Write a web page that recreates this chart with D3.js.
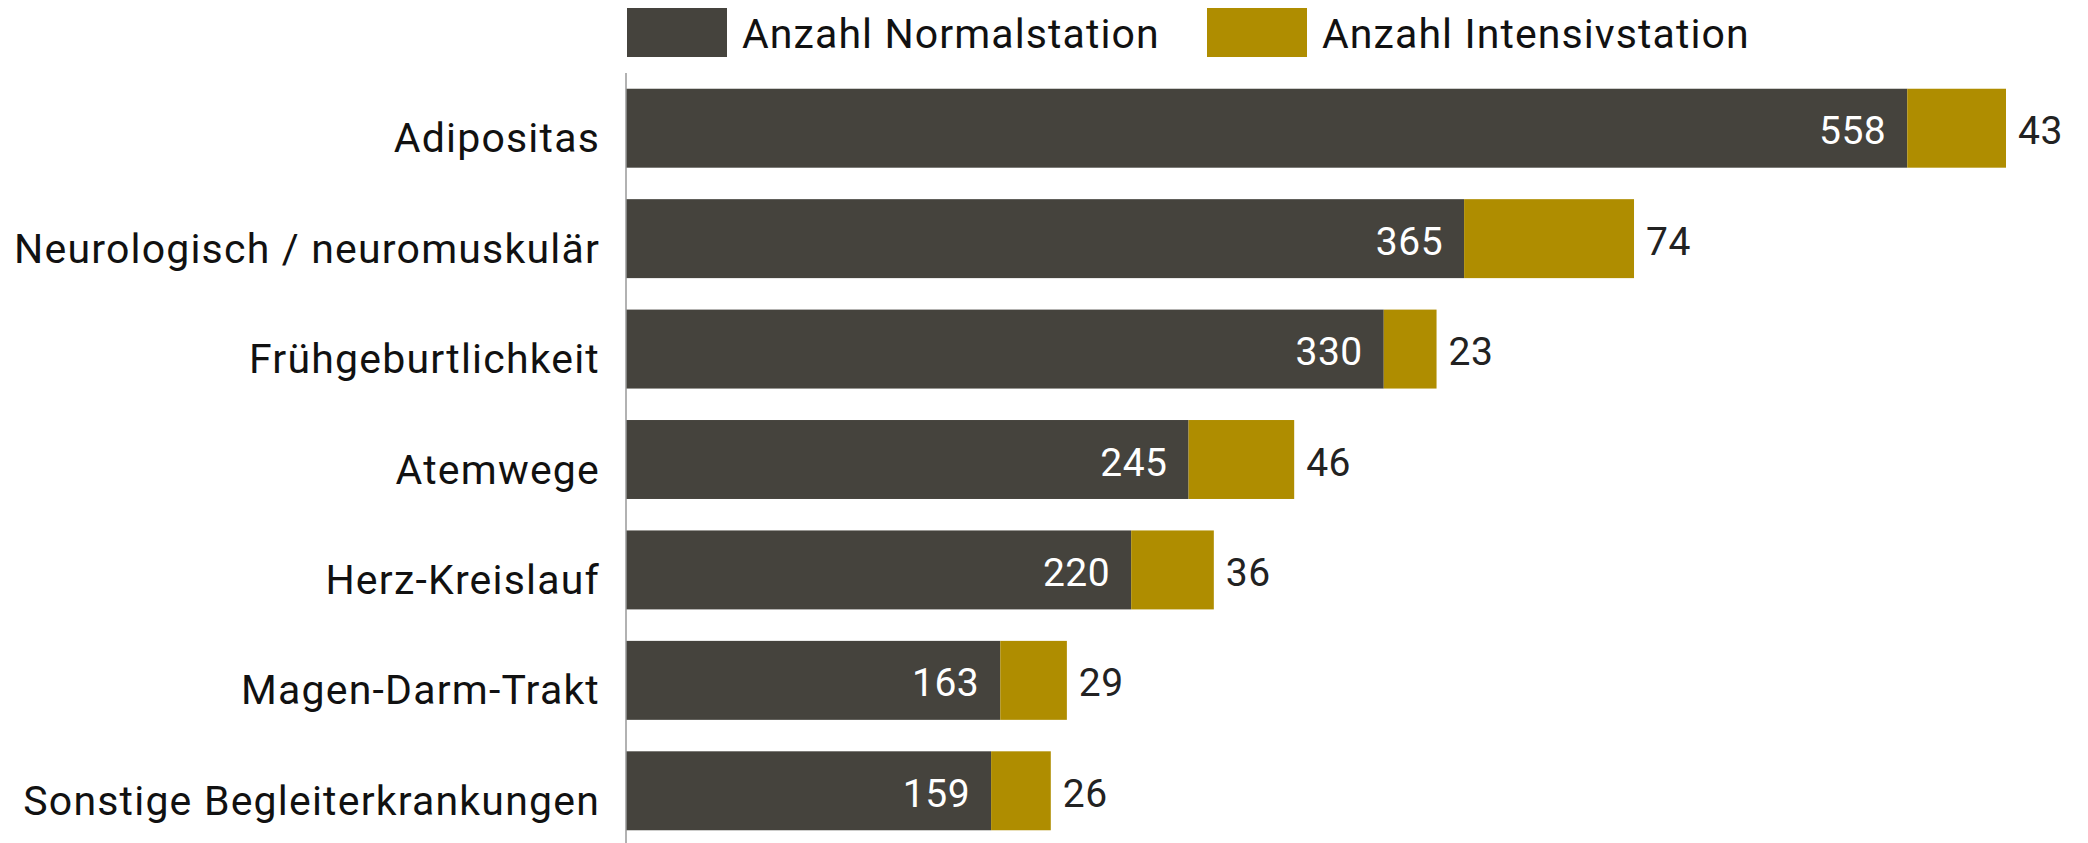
<!DOCTYPE html>
<html>
<head>
<meta charset="utf-8">
<script src="https://cdn.jsdelivr.net/npm/d3@7"></script>
<style>
    html, body { margin: 0; padding: 0; background: #fff; }
    svg { display: block; font-family: Roboto, "Noto Sans", sans-serif; }
</style>
</head>
<body>
<svg id="chart" width="2088" height="843"></svg>
<script>
const categories = ['Adipositas', 'Neurologisch / neuromuskulär', 'Frühgeburtlichkeit', 'Atemwege',
    'Herz-Kreislauf', 'Magen-Darm-Trakt', 'Sonstige Begleiterkrankungen'];
const normalstation = [558, 365, 330, 245, 220, 163, 159];
const intensivstation = [43, 74, 23, 46, 36, 29, 26];
const seriesNames = ['Anzahl Normalstation', 'Anzahl Intensivstation'];
const seriesColors = ['#45433d', '#af8d00'];

const width = 2088;
const height = 843;
const axisX = 626;

const rows = categories.map((c, i) => ({
    name: c,
    normal: normalstation[i],
    intensiv: intensivstation[i]
}));

const svg = d3.select('#chart');

const x = d3.scaleLinear()
    .domain([0, d3.max(rows, d => d.normal + d.intensiv)])
    .range([axisX, 2006]);

const y = d3.scaleBand()
    .domain(categories)
    .range([73, 846])
    .paddingInner(0.285)
    .paddingOuter(0.1425);

const bars = svg.append('g').selectAll('g')
    .data(rows)
    .join('g');

// dark segment (Normalstation)
bars.append('rect')
    .attr('x', x(0))
    .attr('y', d => y(d.name))
    .attr('width', d => x(d.normal) - x(0))
    .attr('height', y.bandwidth())
    .attr('fill', seriesColors[0]);

// gold segment (Intensivstation)
bars.append('rect')
    .attr('x', d => x(d.normal))
    .attr('y', d => y(d.name))
    .attr('width', d => x(d.normal + d.intensiv) - x(d.normal))
    .attr('height', y.bandwidth())
    .attr('fill', seriesColors[1]);

// values inside the dark segment
bars.append('text')
    .attr('x', d => x(d.normal) - 21)
    .attr('y', d => y(d.name) + y.bandwidth() / 2 + 16)
    .attr('text-anchor', 'end')
    .attr('font-size', 39)
    .attr('letter-spacing', 0.5)
    .attr('fill', '#fff')
    .text(d => d.normal);

// values right of the bar
bars.append('text')
    .attr('x', d => x(d.normal + d.intensiv) + 12)
    .attr('y', d => y(d.name) + y.bandwidth() / 2 + 16)
    .attr('font-size', 39)
    .attr('letter-spacing', 0.5)
    .attr('fill', '#222')
    .text(d => d.intensiv);

// category labels
svg.append('g').selectAll('text')
    .data(rows)
    .join('text')
    .attr('x', 600)
    .attr('y', d => y(d.name) + y.bandwidth() / 2 + 24)
    .attr('text-anchor', 'end')
    .attr('font-size', 41)
    .attr('letter-spacing', 1.2)
    .attr('fill', '#111')
    .text(d => d.name);

// axis line
svg.append('line')
    .attr('x1', axisX).attr('x2', axisX)
    .attr('y1', 73).attr('y2', height)
    .attr('stroke', '#999')
    .attr('stroke-width', 1.5);

// legend
const legendX = [627, 1207];
const legend = svg.append('g').selectAll('g')
    .data(seriesNames)
    .join('g')
    .attr('transform', (d, i) => `translate(${legendX[i]},8)`);

legend.append('rect')
    .attr('width', 100)
    .attr('height', 49)
    .attr('fill', (d, i) => seriesColors[i]);

legend.append('text')
    .attr('x', 115)
    .attr('y', 40)
    .attr('font-size', 41)
    .attr('letter-spacing', 1.1)
    .attr('fill', '#111')
    .text(d => d);
</script>
</body>
</html>
